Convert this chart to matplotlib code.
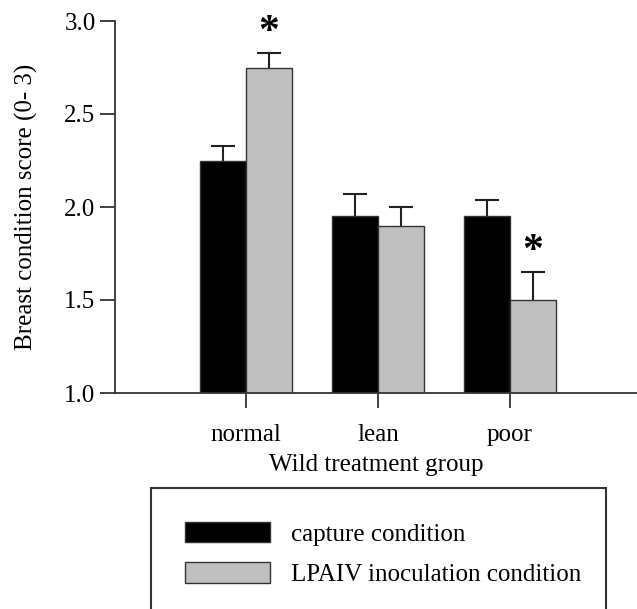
import numpy as np
import matplotlib.pyplot as plt
from matplotlib.patches import Patch

groups = ["normal", "lean", "poor"]
capture_mean = [2.25, 1.95, 1.95]
capture_err = [0.08, 0.12, 0.09]
lpaiv_mean = [2.75, 1.90, 1.50]
lpaiv_err = [0.08, 0.10, 0.15]
signif = [True, False, True]
series_labels = ["capture condition", "LPAIV inoculation condition"]

plt.rcParams['font.family'] = ['Liberation Serif', 'DejaVu Serif']

fig = plt.figure(figsize=(6.37, 6.09), dpi=100)
ax = fig.add_axes([115/637, 1-393/609, 1-115/637, (393-21)/609])

x = np.arange(len(groups))
w = 0.348
ekw = dict(ecolor='#222222', elinewidth=1.5, capsize=8.5, capthick=1.5)
b1 = ax.bar(x - w/2, capture_mean, w, color='black', edgecolor='#333333', linewidth=1,
            yerr=[np.zeros(3), capture_err], error_kw=ekw, zorder=2)
b2 = ax.bar(x + w/2, lpaiv_mean, w, color='#c0c0c0', edgecolor='#333333', linewidth=1,
            yerr=[np.zeros(3), lpaiv_err], error_kw=ekw, zorder=2)
# only the upper caps are shown
for b in (b1, b2):
    b.errorbar.lines[1][0].set_visible(False)

for i, s in enumerate(signif):
    if s:
        ax.text(x[i] + w/2, lpaiv_mean[i] + lpaiv_err[i] + 0.005, "*", ha='center', va='bottom',
                fontsize=30, fontweight='bold')

ax.set_ylim(1.0, 3.0)
ax.set_xlim(-0.992, 2.962)
ax.set_yticks([1.0, 1.5, 2.0, 2.5, 3.0])
ax.set_yticklabels(["1.0", "1.5", "2.0", "2.5", "3.0"])
ax.set_xticks(x)
ax.set_xticklabels(groups)
for s in ['top', 'right']:
    ax.spines[s].set_visible(False)
for s in ['left', 'bottom']:
    ax.spines[s].set_linewidth(1.3)
    ax.spines[s].set_color('#333333')
ax.tick_params(axis='both', direction='out', length=11, width=1.3, color='#333333',
               labelsize=18, pad=3)
ax.tick_params(axis='x', pad=11)
ax.set_ylabel("Breast condition score (0- 3)", fontsize=18, labelpad=19)
ax.set_xlabel("Wild treatment group", fontsize=18, labelpad=6)

handles = [Patch(facecolor='black', edgecolor='#333333'),
           Patch(facecolor='#c0c0c0', edgecolor='#333333')]
leg = fig.legend(handles, series_labels, loc='upper left',
                 bbox_to_anchor=(151/637, 1-494/609, (606-151)/637, 0.01), mode='expand',
                 borderaxespad=0, borderpad=1.35, fontsize=18, handlelength=3.4,
                 handleheight=0.9, handletextpad=0.85, labelspacing=0.65,
                 fancybox=False, frameon=True)
leg.get_frame().set_edgecolor('black')
leg.get_frame().set_linewidth(1.5)

fig.savefig("out.png", dpi=100)
